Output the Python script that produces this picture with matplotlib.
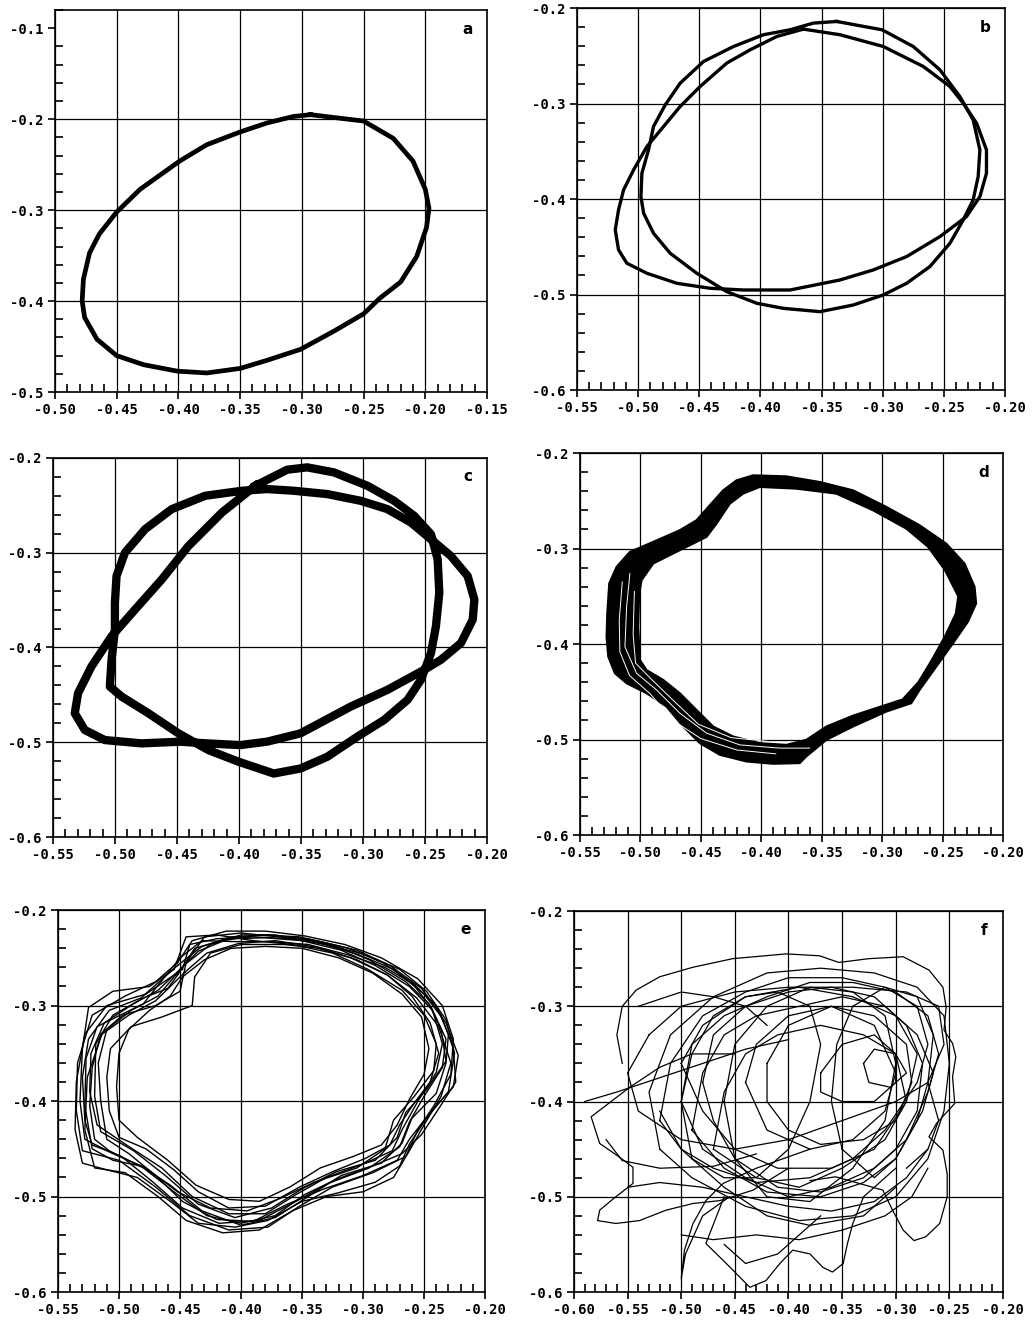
import numpy as np
import matplotlib
matplotlib.use("Agg")
from matplotlib import pyplot as plt
from matplotlib.path import Path
from matplotlib.patches import PathPatch
from matplotlib.ticker import MultipleLocator, FormatStrFormatter

# ---- panel a : single limit cycle (x, y) ----
a_loop = [(-0.293, -0.195), (-0.250, -0.202), (-0.226, -0.221), (-0.210, -0.246), (-0.200, -0.277),
          (-0.197, -0.298), (-0.199, -0.319), (-0.207, -0.351), (-0.220, -0.379), (-0.237, -0.397),
          (-0.250, -0.414), (-0.274, -0.433), (-0.301, -0.453), (-0.328, -0.465), (-0.350, -0.474),
          (-0.377, -0.479), (-0.401, -0.477), (-0.428, -0.470), (-0.450, -0.460), (-0.466, -0.442),
          (-0.476, -0.418), (-0.478, -0.400), (-0.477, -0.376), (-0.472, -0.347), (-0.464, -0.326),
          (-0.450, -0.302), (-0.431, -0.277), (-0.399, -0.246), (-0.377, -0.228), (-0.350, -0.214),
          (-0.328, -0.204), (-0.307, -0.197)]

# ---- panel b : period-two cycle, two loops ----
b_loop1 = [(-0.3376, -0.2140), (-0.3005, -0.2227), (-0.2750, -0.2402), (-0.2532, -0.2646),
           (-0.2369, -0.2926), (-0.2260, -0.3170), (-0.2205, -0.3485), (-0.2219, -0.3764),
           (-0.2260, -0.4008), (-0.2341, -0.4218), (-0.2450, -0.4463), (-0.2614, -0.4707),
           (-0.2804, -0.4882), (-0.2995, -0.5004), (-0.3240, -0.5109), (-0.3512, -0.5179),
           (-0.3814, -0.5144), (-0.4030, -0.5091), (-0.4275, -0.4969), (-0.4520, -0.4777),
           (-0.4738, -0.4567), (-0.4874, -0.4358), (-0.4955, -0.4148), (-0.4977, -0.3974),
           (-0.4969, -0.3729), (-0.4915, -0.3485), (-0.4874, -0.3240), (-0.4778, -0.3013),
           (-0.4656, -0.2786), (-0.4465, -0.2559), (-0.4220, -0.2402), (-0.3975, -0.2279),
           (-0.3757, -0.2227), (-0.3567, -0.2157)]
b_loop2 = [(-0.3648, -0.2220), (-0.3349, -0.2279), (-0.2995, -0.2402), (-0.2668, -0.2611),
           (-0.2450, -0.2821), (-0.2341, -0.2996), (-0.2232, -0.3205), (-0.2151, -0.3485),
           (-0.2151, -0.3729), (-0.2205, -0.3974), (-0.2314, -0.4183), (-0.2532, -0.4393),
           (-0.2804, -0.4602), (-0.3077, -0.4742), (-0.3349, -0.4847), (-0.3757, -0.4952),
           (-0.4139, -0.4952), (-0.4411, -0.4934), (-0.4683, -0.4882), (-0.4928, -0.4777),
           (-0.5092, -0.4672), (-0.5160, -0.4532), (-0.5187, -0.4323), (-0.5160, -0.4113),
           (-0.5119, -0.3904), (-0.5037, -0.3694), (-0.4928, -0.3450), (-0.4792, -0.3240),
           (-0.4656, -0.3030), (-0.4493, -0.2821), (-0.4275, -0.2576), (-0.4084, -0.2437),
           (-0.3866, -0.2297)]

# ---- panel c : thick double loop ----
c_loop = [(-0.3868, -0.2293), (-0.3612, -0.2124), (-0.3450, -0.2099), (-0.3235, -0.2152),
          (-0.2965, -0.2293), (-0.2749, -0.2452), (-0.2587, -0.2611), (-0.2452, -0.2805),
          (-0.2398, -0.3070), (-0.2385, -0.3423), (-0.2412, -0.3776), (-0.2452, -0.4059),
          (-0.2533, -0.4341), (-0.2641, -0.4553), (-0.2830, -0.4765), (-0.3046, -0.4941),
          (-0.3288, -0.5153), (-0.3504, -0.5277), (-0.3720, -0.5330), (-0.4003, -0.5206),
          (-0.4246, -0.5083), (-0.4489, -0.4906), (-0.4731, -0.4694), (-0.4947, -0.4518),
          (-0.5042, -0.4412), (-0.5028, -0.4129), (-0.5001, -0.3811), (-0.5001, -0.3529),
          (-0.4988, -0.3246), (-0.4920, -0.2999), (-0.4758, -0.2752), (-0.4543, -0.2540),
          (-0.4273, -0.2399), (-0.3976, -0.2346), (-0.3774, -0.2328), (-0.3558, -0.2346),
          (-0.3288, -0.2381), (-0.3019, -0.2452), (-0.2803, -0.2540), (-0.2614, -0.2681),
          (-0.2452, -0.2858), (-0.2291, -0.3035), (-0.2156, -0.3246), (-0.2102, -0.3494),
          (-0.2115, -0.3705), (-0.2210, -0.3953), (-0.2371, -0.4129), (-0.2506, -0.4235),
          (-0.2803, -0.4447), (-0.3100, -0.4624), (-0.3504, -0.4906), (-0.3774, -0.4994),
          (-0.3990, -0.5030), (-0.4259, -0.5012), (-0.4475, -0.4994), (-0.4785, -0.5012),
          (-0.5082, -0.4977), (-0.5244, -0.4871), (-0.5325, -0.4694), (-0.5298, -0.4482),
          (-0.5190, -0.4200), (-0.5028, -0.3882), (-0.4839, -0.3600), (-0.4623, -0.3282),
          (-0.4408, -0.2929), (-0.4138, -0.2576)]

# ---- panel d : torus band (outer edge, inner edge, streaks) ----
d_outer = [(-0.4067, -0.2233), (-0.3792, -0.2244), (-0.3516, -0.2303), (-0.3241, -0.2390),
           (-0.2965, -0.2564), (-0.2690, -0.2756), (-0.2470, -0.2948), (-0.2318, -0.3157),
           (-0.2235, -0.3401), (-0.2222, -0.3575), (-0.2290, -0.3766), (-0.2414, -0.3993),
           (-0.2552, -0.4237), (-0.2690, -0.4481), (-0.2759, -0.4620), (-0.2965, -0.4707),
           (-0.3241, -0.4864), (-0.3461, -0.5003), (-0.3627, -0.5177), (-0.3682, -0.5247),
           (-0.3902, -0.5254), (-0.4123, -0.5230), (-0.4343, -0.5160), (-0.4508, -0.5038),
           (-0.4646, -0.4864), (-0.4784, -0.4655), (-0.4949, -0.4515), (-0.5114, -0.4411),
           (-0.5211, -0.4306), (-0.5266, -0.4132), (-0.5280, -0.3923), (-0.5274, -0.3679),
           (-0.5258, -0.3366), (-0.5197, -0.3192), (-0.5087, -0.3035), (-0.4894, -0.2930),
           (-0.4674, -0.2808), (-0.4536, -0.2704), (-0.4426, -0.2547), (-0.4315, -0.2390),
           (-0.4205, -0.2286)]
d_inner = [(-0.4012, -0.2355), (-0.3709, -0.2373), (-0.3379, -0.2425), (-0.3076, -0.2599),
           (-0.2800, -0.2791), (-0.2620, -0.2982), (-0.2480, -0.3226), (-0.2370, -0.3500),
           (-0.2390, -0.3680), (-0.2480, -0.3920), (-0.2590, -0.4170), (-0.2700, -0.4400),
           (-0.2830, -0.4580), (-0.3048, -0.4670), (-0.3241, -0.4750), (-0.3461, -0.4864),
           (-0.3627, -0.5003), (-0.3792, -0.5056), (-0.4012, -0.5038), (-0.4233, -0.4968),
           (-0.4398, -0.4864), (-0.4536, -0.4690), (-0.4674, -0.4515), (-0.4811, -0.4376),
           (-0.4949, -0.4272), (-0.5004, -0.4167), (-0.5018, -0.3819), (-0.5010, -0.3470),
           (-0.4990, -0.3331), (-0.4894, -0.3157), (-0.4729, -0.3052), (-0.4563, -0.2948),
           (-0.4453, -0.2878), (-0.4370, -0.2739), (-0.4260, -0.2530), (-0.4150, -0.2425)]
d_streaks = [
    [(-0.5087, -0.3261), (-0.5114, -0.3610), (-0.5128, -0.4028), (-0.5032, -0.4306),
     (-0.4866, -0.4481), (-0.4674, -0.4724), (-0.4453, -0.4933), (-0.4178, -0.5056),
     (-0.3847, -0.5090), (-0.3599, -0.5090)],
    [(-0.5150, -0.3350), (-0.5175, -0.3750), (-0.5170, -0.4080), (-0.5090, -0.4330),
     (-0.4920, -0.4520), (-0.4730, -0.4800), (-0.4500, -0.4990), (-0.4200, -0.5110),
     (-0.3880, -0.5150)],
    [(-0.5050, -0.3450), (-0.5060, -0.3900), (-0.5040, -0.4200), (-0.4900, -0.4380),
     (-0.4720, -0.4600), (-0.4520, -0.4840), (-0.4250, -0.4980), (-0.3950, -0.5020)],
]

# ---- panel e : noisy torus, individual revolutions ----
e_loops = [
    [(-0.450, -0.262), (-0.435, -0.243), (-0.410, -0.230), (-0.380, -0.229), (-0.350, -0.232),
     (-0.318, -0.242), (-0.290, -0.258), (-0.262, -0.280), (-0.243, -0.305), (-0.235, -0.340),
     (-0.240, -0.370), (-0.255, -0.400), (-0.268, -0.430), (-0.276, -0.452), (-0.300, -0.466),
     (-0.330, -0.480), (-0.355, -0.498), (-0.380, -0.518), (-0.410, -0.518), (-0.440, -0.500),
     (-0.465, -0.470), (-0.495, -0.445), (-0.518, -0.425), (-0.524, -0.390), (-0.523, -0.350),
     (-0.512, -0.318), (-0.488, -0.298), (-0.468, -0.284)],
    [(-0.452, -0.255), (-0.440, -0.232), (-0.412, -0.222), (-0.380, -0.222), (-0.348, -0.227),
     (-0.315, -0.236), (-0.285, -0.250), (-0.255, -0.272), (-0.235, -0.300), (-0.226, -0.335),
     (-0.228, -0.372), (-0.242, -0.405), (-0.255, -0.430), (-0.265, -0.458), (-0.292, -0.475),
     (-0.325, -0.490), (-0.352, -0.510), (-0.378, -0.532), (-0.410, -0.535), (-0.442, -0.520),
     (-0.470, -0.490), (-0.500, -0.462), (-0.530, -0.452), (-0.535, -0.410), (-0.534, -0.360),
     (-0.522, -0.310), (-0.495, -0.290), (-0.470, -0.275)],
    [(-0.448, -0.270), (-0.430, -0.252), (-0.408, -0.240), (-0.380, -0.238), (-0.350, -0.240),
     (-0.320, -0.250), (-0.292, -0.266), (-0.268, -0.288), (-0.252, -0.312), (-0.246, -0.345),
     (-0.250, -0.372), (-0.262, -0.398), (-0.272, -0.425), (-0.285, -0.446), (-0.308, -0.458),
     (-0.335, -0.470), (-0.360, -0.490), (-0.385, -0.505), (-0.410, -0.503), (-0.437, -0.488),
     (-0.460, -0.462), (-0.485, -0.438), (-0.500, -0.420), (-0.502, -0.385), (-0.500, -0.350),
     (-0.492, -0.325), (-0.475, -0.305), (-0.458, -0.290)],
    [(-0.447, -0.258), (-0.425, -0.236), (-0.400, -0.226), (-0.372, -0.226), (-0.340, -0.233),
     (-0.305, -0.246), (-0.275, -0.262), (-0.250, -0.288), (-0.232, -0.318), (-0.222, -0.352),
     (-0.226, -0.385), (-0.245, -0.412), (-0.262, -0.440), (-0.272, -0.462), (-0.300, -0.478),
     (-0.332, -0.492), (-0.362, -0.508), (-0.390, -0.526), (-0.420, -0.524), (-0.448, -0.505),
     (-0.470, -0.478), (-0.492, -0.455), (-0.510, -0.440), (-0.515, -0.400), (-0.517, -0.360),
     (-0.510, -0.325), (-0.490, -0.305), (-0.468, -0.290)],
    [(-0.455, -0.262), (-0.445, -0.228), (-0.420, -0.226), (-0.390, -0.232), (-0.358, -0.236),
     (-0.325, -0.245), (-0.296, -0.262), (-0.268, -0.284), (-0.250, -0.310), (-0.240, -0.340),
     (-0.242, -0.368), (-0.258, -0.395), (-0.275, -0.420), (-0.282, -0.450), (-0.305, -0.470),
     (-0.340, -0.485), (-0.368, -0.502), (-0.395, -0.515), (-0.425, -0.512), (-0.452, -0.495),
     (-0.478, -0.470), (-0.505, -0.455), (-0.528, -0.440), (-0.532, -0.400), (-0.530, -0.345),
     (-0.525, -0.302), (-0.505, -0.285), (-0.475, -0.280)],
    [(-0.450, -0.250), (-0.432, -0.232), (-0.405, -0.233), (-0.375, -0.233), (-0.345, -0.236),
     (-0.312, -0.247), (-0.282, -0.260), (-0.258, -0.278), (-0.240, -0.300), (-0.230, -0.330),
     (-0.232, -0.360), (-0.240, -0.392), (-0.260, -0.418), (-0.268, -0.444), (-0.285, -0.465),
     (-0.318, -0.478), (-0.345, -0.500), (-0.372, -0.522), (-0.400, -0.530), (-0.432, -0.515),
     (-0.458, -0.488), (-0.482, -0.468), (-0.505, -0.462), (-0.522, -0.450), (-0.528, -0.405),
     (-0.527, -0.355), (-0.518, -0.322), (-0.480, -0.298)],
    [(-0.452, -0.268), (-0.438, -0.240), (-0.415, -0.232), (-0.385, -0.226), (-0.352, -0.228),
     (-0.322, -0.238), (-0.295, -0.252), (-0.265, -0.275), (-0.246, -0.298), (-0.236, -0.325),
     (-0.232, -0.358), (-0.248, -0.388), (-0.265, -0.412), (-0.272, -0.438), (-0.290, -0.462),
     (-0.322, -0.474), (-0.350, -0.492), (-0.375, -0.512), (-0.405, -0.522), (-0.435, -0.508),
     (-0.462, -0.478), (-0.488, -0.452), (-0.515, -0.432), (-0.520, -0.395), (-0.519, -0.340),
     (-0.505, -0.310), (-0.480, -0.292), (-0.460, -0.282)],
    [(-0.446, -0.265), (-0.428, -0.245), (-0.402, -0.235), (-0.372, -0.232), (-0.342, -0.238),
     (-0.310, -0.250), (-0.280, -0.268), (-0.256, -0.292), (-0.238, -0.322), (-0.228, -0.360),
     (-0.236, -0.395), (-0.250, -0.425), (-0.262, -0.452), (-0.275, -0.480), (-0.300, -0.495),
     (-0.330, -0.500), (-0.358, -0.515), (-0.385, -0.535), (-0.415, -0.538), (-0.445, -0.525),
     (-0.468, -0.500), (-0.495, -0.475), (-0.520, -0.470), (-0.528, -0.430), (-0.526, -0.375),
     (-0.514, -0.330), (-0.492, -0.310), (-0.470, -0.295)],
    [(-0.445, -0.255), (-0.430, -0.228), (-0.400, -0.224), (-0.370, -0.228), (-0.338, -0.232),
     (-0.305, -0.242), (-0.278, -0.258), (-0.252, -0.282), (-0.236, -0.310), (-0.226, -0.345),
     (-0.224, -0.380), (-0.238, -0.408), (-0.252, -0.435), (-0.268, -0.455), (-0.292, -0.468),
     (-0.322, -0.482), (-0.348, -0.498), (-0.372, -0.520), (-0.400, -0.528), (-0.428, -0.520),
     (-0.455, -0.495), (-0.480, -0.470), (-0.508, -0.452), (-0.520, -0.440), (-0.524, -0.405),
     (-0.522, -0.365), (-0.515, -0.330), (-0.497, -0.310), (-0.470, -0.300), (-0.450, -0.285)],
    [(-0.440, -0.300), (-0.438, -0.270), (-0.425, -0.245), (-0.400, -0.236), (-0.365, -0.236),
     (-0.335, -0.240), (-0.305, -0.252), (-0.280, -0.268), (-0.260, -0.290), (-0.245, -0.318),
     (-0.238, -0.350), (-0.245, -0.380), (-0.258, -0.402), (-0.270, -0.425), (-0.278, -0.446),
     (-0.298, -0.460), (-0.325, -0.474), (-0.352, -0.490), (-0.380, -0.510), (-0.410, -0.512),
     (-0.435, -0.495), (-0.455, -0.472), (-0.478, -0.450), (-0.500, -0.438), (-0.508, -0.410),
     (-0.510, -0.375), (-0.507, -0.345), (-0.490, -0.322), (-0.465, -0.312)],
    [(-0.448, -0.262), (-0.442, -0.236), (-0.420, -0.230), (-0.390, -0.228), (-0.360, -0.230),
     (-0.330, -0.236), (-0.300, -0.246), (-0.270, -0.262), (-0.248, -0.285), (-0.232, -0.315),
     (-0.225, -0.350), (-0.230, -0.390), (-0.248, -0.418), (-0.262, -0.445), (-0.270, -0.468),
     (-0.290, -0.485), (-0.320, -0.496), (-0.350, -0.505), (-0.378, -0.525), (-0.405, -0.532),
     (-0.435, -0.528), (-0.458, -0.505), (-0.485, -0.480), (-0.510, -0.472), (-0.530, -0.465),
     (-0.536, -0.430), (-0.535, -0.380), (-0.528, -0.330), (-0.510, -0.300), (-0.478, -0.288)],
    [(-0.452, -0.258), (-0.432, -0.238), (-0.408, -0.228), (-0.378, -0.226), (-0.345, -0.230),
     (-0.312, -0.240), (-0.284, -0.255), (-0.260, -0.276), (-0.244, -0.302), (-0.232, -0.335),
     (-0.235, -0.365), (-0.250, -0.395), (-0.262, -0.422), (-0.270, -0.448), (-0.295, -0.470),
     (-0.328, -0.486), (-0.355, -0.505), (-0.385, -0.525), (-0.418, -0.528), (-0.448, -0.512),
     (-0.472, -0.485), (-0.498, -0.458), (-0.522, -0.446), (-0.528, -0.420), (-0.530, -0.375),
     (-0.525, -0.335), (-0.508, -0.305), (-0.482, -0.292)],
]

# ---- panel f : chaotic trajectory, open strokes and core revolutions ----
f_strokes = [
    [(-0.555, -0.360), (-0.560, -0.330), (-0.555, -0.300), (-0.542, -0.283), (-0.520, -0.269),
     (-0.489, -0.259), (-0.452, -0.250), (-0.402, -0.245), (-0.371, -0.247), (-0.353, -0.254),
     (-0.325, -0.250), (-0.293, -0.248), (-0.269, -0.262), (-0.256, -0.280), (-0.253, -0.301),
     (-0.255, -0.325), (-0.247, -0.339), (-0.244, -0.353), (-0.247, -0.374), (-0.245, -0.402),
     (-0.262, -0.423), (-0.269, -0.437), (-0.256, -0.451), (-0.252, -0.476), (-0.252, -0.500),
     (-0.259, -0.528), (-0.272, -0.542), (-0.283, -0.546), (-0.293, -0.535), (-0.303, -0.514),
     (-0.312, -0.493), (-0.334, -0.486), (-0.356, -0.479), (-0.380, -0.483)],
    [(-0.450, -0.350), (-0.490, -0.350), (-0.520, -0.364), (-0.548, -0.385), (-0.584, -0.416),
     (-0.576, -0.444), (-0.558, -0.458), (-0.545, -0.469), (-0.545, -0.486), (-0.561, -0.500),
     (-0.576, -0.514), (-0.578, -0.525), (-0.561, -0.528), (-0.539, -0.525), (-0.514, -0.514),
     (-0.489, -0.507), (-0.464, -0.504), (-0.433, -0.493), (-0.400, -0.470)],
    [(-0.380, -0.450), (-0.430, -0.470), (-0.461, -0.486), (-0.477, -0.504), (-0.489, -0.528),
     (-0.497, -0.556), (-0.500, -0.586), (-0.496, -0.560), (-0.480, -0.520), (-0.455, -0.500)],
    [(-0.460, -0.500), (-0.477, -0.549), (-0.458, -0.570), (-0.436, -0.595), (-0.421, -0.588),
     (-0.408, -0.570), (-0.396, -0.556), (-0.380, -0.560), (-0.368, -0.574), (-0.359, -0.579),
     (-0.349, -0.570), (-0.345, -0.549), (-0.340, -0.528), (-0.330, -0.500), (-0.300, -0.470)],
    [(-0.550, -0.490), (-0.520, -0.485), (-0.480, -0.490), (-0.440, -0.500), (-0.400, -0.510),
     (-0.360, -0.515), (-0.320, -0.505), (-0.290, -0.480), (-0.270, -0.450)],
    [(-0.570, -0.440), (-0.555, -0.462), (-0.520, -0.470), (-0.470, -0.468), (-0.430, -0.455)],
    [(-0.540, -0.300), (-0.500, -0.285), (-0.470, -0.290), (-0.440, -0.300), (-0.420, -0.320)],
    [(-0.590, -0.400), (-0.560, -0.390), (-0.520, -0.375), (-0.480, -0.360), (-0.440, -0.345),
     (-0.400, -0.335)],
    [(-0.500, -0.540), (-0.470, -0.545), (-0.430, -0.540), (-0.390, -0.545), (-0.350, -0.535),
     (-0.310, -0.520), (-0.285, -0.500), (-0.270, -0.470)],
    [(-0.460, -0.550), (-0.440, -0.570), (-0.410, -0.560), (-0.390, -0.540), (-0.370, -0.520)],
    [(-0.520, -0.410), (-0.500, -0.450), (-0.460, -0.490), (-0.420, -0.520), (-0.380, -0.530),
     (-0.330, -0.520), (-0.300, -0.490)],
    [(-0.270, -0.380), (-0.260, -0.420), (-0.270, -0.450), (-0.290, -0.470)],
]
f_loops = [
    [(-0.48, -0.38), (-0.47, -0.33), (-0.44, -0.30), (-0.40, -0.285), (-0.36, -0.28), (-0.32, -0.29),
     (-0.29, -0.32), (-0.275, -0.36), (-0.28, -0.41), (-0.30, -0.45), (-0.33, -0.48), (-0.37, -0.495),
     (-0.41, -0.49), (-0.45, -0.46), (-0.47, -0.42)],
    [(-0.50, -0.40), (-0.49, -0.34), (-0.46, -0.31), (-0.42, -0.29), (-0.38, -0.275), (-0.34, -0.275),
     (-0.30, -0.285), (-0.27, -0.31), (-0.26, -0.35), (-0.27, -0.39), (-0.29, -0.44), (-0.32, -0.47),
     (-0.36, -0.49), (-0.40, -0.50), (-0.44, -0.48), (-0.48, -0.45)],
    [(-0.42, -0.36), (-0.40, -0.32), (-0.36, -0.30), (-0.32, -0.31), (-0.29, -0.34), (-0.285, -0.38),
     (-0.30, -0.42), (-0.33, -0.44), (-0.37, -0.445), (-0.40, -0.43), (-0.42, -0.40)],
    [(-0.52, -0.42), (-0.51, -0.36), (-0.48, -0.31), (-0.44, -0.285), (-0.40, -0.27), (-0.35, -0.27),
     (-0.31, -0.28), (-0.28, -0.30), (-0.27, -0.34), (-0.28, -0.38), (-0.31, -0.43), (-0.34, -0.46),
     (-0.38, -0.48), (-0.43, -0.485), (-0.47, -0.47), (-0.50, -0.45)],
    [(-0.46, -0.40), (-0.45, -0.34), (-0.42, -0.30), (-0.38, -0.28), (-0.34, -0.285), (-0.31, -0.31),
     (-0.30, -0.36), (-0.31, -0.42), (-0.34, -0.47), (-0.38, -0.505), (-0.42, -0.50), (-0.45, -0.46)],
    [(-0.37, -0.37), (-0.35, -0.34), (-0.32, -0.33), (-0.30, -0.35), (-0.30, -0.38), (-0.32, -0.40),
     (-0.35, -0.40), (-0.37, -0.39)],
    [(-0.49, -0.43), (-0.48, -0.37), (-0.46, -0.33), (-0.43, -0.31), (-0.39, -0.30), (-0.35, -0.29),
     (-0.31, -0.30), (-0.28, -0.33), (-0.265, -0.37), (-0.275, -0.41), (-0.30, -0.46), (-0.33, -0.485),
     (-0.37, -0.50), (-0.42, -0.495), (-0.46, -0.47)],
    [(-0.53, -0.33), (-0.50, -0.30), (-0.45, -0.285), (-0.40, -0.28), (-0.34, -0.28), (-0.29, -0.285),
     (-0.26, -0.30), (-0.255, -0.34), (-0.27, -0.38), (-0.30, -0.40), (-0.35, -0.42), (-0.40, -0.44),
     (-0.45, -0.45), (-0.50, -0.44), (-0.54, -0.41), (-0.55, -0.37)],
    [(-0.50, -0.36), (-0.48, -0.32), (-0.44, -0.29), (-0.39, -0.28), (-0.34, -0.29), (-0.30, -0.31),
     (-0.28, -0.35), (-0.29, -0.40), (-0.32, -0.45), (-0.36, -0.47), (-0.41, -0.47), (-0.45, -0.45),
     (-0.48, -0.41)],
    [(-0.44, -0.38), (-0.43, -0.34), (-0.40, -0.31), (-0.36, -0.30), (-0.32, -0.32), (-0.30, -0.37),
     (-0.31, -0.41), (-0.34, -0.44), (-0.38, -0.45), (-0.42, -0.43)],
    [(-0.47, -0.45), (-0.46, -0.39), (-0.44, -0.35), (-0.41, -0.33), (-0.37, -0.32), (-0.33, -0.33),
     (-0.30, -0.35), (-0.29, -0.40), (-0.31, -0.44), (-0.35, -0.47), (-0.39, -0.49), (-0.43, -0.48)],
    [(-0.49, -0.46), (-0.50, -0.40), (-0.49, -0.35), (-0.47, -0.31), (-0.44, -0.29), (-0.41, -0.285),
     (-0.38, -0.30), (-0.37, -0.34), (-0.38, -0.40), (-0.40, -0.45), (-0.43, -0.48), (-0.46, -0.48)],
    [(-0.35, -0.45), (-0.36, -0.40), (-0.355, -0.34), (-0.34, -0.30), (-0.31, -0.28), (-0.28, -0.29),
     (-0.265, -0.33), (-0.27, -0.38), (-0.28, -0.42), (-0.30, -0.46), (-0.32, -0.48)],
    [(-0.33, -0.36), (-0.32, -0.345), (-0.30, -0.35), (-0.29, -0.37), (-0.305, -0.385), (-0.325, -0.38)],
    [(-0.52, -0.45), (-0.53, -0.39), (-0.51, -0.33), (-0.47, -0.29), (-0.42, -0.265), (-0.37, -0.26),
     (-0.32, -0.265), (-0.28, -0.28), (-0.255, -0.31), (-0.25, -0.36), (-0.255, -0.41), (-0.27, -0.46),
     (-0.30, -0.50), (-0.34, -0.52), (-0.39, -0.525), (-0.44, -0.51), (-0.49, -0.48)],
]

panel_labels = ["a", "b", "c", "d", "e", "f"]
xlims = [(-0.50, -0.15), (-0.55, -0.20), (-0.55, -0.20), (-0.55, -0.20), (-0.55, -0.20), (-0.60, -0.20)]
ylims = [(-0.50, -0.08), (-0.60, -0.20), (-0.60, -0.20), (-0.60, -0.20), (-0.60, -0.20), (-0.60, -0.20)]
# axes boxes in figure fractions
boxes = [[0.0532, 0.7050, 0.4178, 0.2874], [0.5580, 0.7065, 0.4139, 0.2874],
         [0.0513, 0.3702, 0.4197, 0.2852], [0.5609, 0.3717, 0.4091, 0.2874],
         [0.0561, 0.0278, 0.4130, 0.2874], [0.5551, 0.0278, 0.4149, 0.2867]]


def xy(pts, close=True):
    arr = np.array(pts)
    if close:
        arr = np.vstack([arr, arr[:1]])
    return arr[:, 0], arr[:, 1]


def style(ax, xl, yl, label):
    ax.set_xlim(*xl)
    ax.set_ylim(*yl)
    ax.xaxis.set_major_locator(MultipleLocator(0.05))
    ax.xaxis.set_minor_locator(MultipleLocator(0.01))
    ax.yaxis.set_major_locator(MultipleLocator(0.1))
    ax.yaxis.set_minor_locator(MultipleLocator(0.02))
    ax.xaxis.set_major_formatter(FormatStrFormatter("%.2f"))
    ax.yaxis.set_major_formatter(FormatStrFormatter("%.1f"))
    ax.tick_params(which="major", direction="out", length=5, width=1.2,
                   top=False, right=False, pad=3)
    ax.tick_params(which="minor", direction="in", length=6, width=1.2,
                   top=False, right=False)
    for t in ax.get_xticklabels() + ax.get_yticklabels():
        t.set_fontfamily("DejaVu Sans Mono")
        t.set_fontweight("bold")
        t.set_fontsize(10)
    for v in np.arange(xl[0], xl[1] + 1e-9, 0.05):
        ax.axvline(v, color="black", lw=0.9, zorder=0)
    for v in np.arange(yl[0], -0.15, 0.1):
        ax.axhline(v, color="black", lw=0.9, zorder=0)
    for s in ax.spines.values():
        s.set_linewidth(1.2)
    ax.text(0.955, 0.95, label, transform=ax.transAxes, fontsize=11,
            fontweight="bold", ha="center", va="center")


fig = plt.figure(figsize=(10.34, 13.29), dpi=100)
axes = [fig.add_axes(b) for b in boxes]

ax = axes[0]
ax.plot(*xy(a_loop), color="black", lw=3.4, solid_joinstyle="round")

ax = axes[1]
ax.plot(*xy(b_loop1), color="black", lw=2.4, solid_joinstyle="round")
ax.plot(*xy(b_loop2), color="black", lw=2.4, solid_joinstyle="round")

ax = axes[2]
ax.plot(*xy(c_loop), color="black", lw=6.0, solid_joinstyle="round")

ax = axes[3]
outer = np.array(d_outer)
inner = np.array(d_inner)[::-1]
verts = np.vstack([outer, outer[:1], inner, inner[:1]])
codes = ([Path.MOVETO] + [Path.LINETO] * (len(outer) - 1) + [Path.CLOSEPOLY]
         + [Path.MOVETO] + [Path.LINETO] * (len(inner) - 1) + [Path.CLOSEPOLY])
ax.add_patch(PathPatch(Path(verts, codes), facecolor="black", edgecolor="black", lw=1.5))
for s in d_streaks:
    ax.plot(*xy(s, close=False), color="white", lw=0.7)

ax = axes[4]
for loop in e_loops:
    ax.plot(*xy(loop), color="black", lw=1.0)

ax = axes[5]
for s in f_strokes:
    ax.plot(*xy(s, close=False), color="black", lw=0.9)
for loop in f_loops:
    ax.plot(*xy(loop), color="black", lw=0.9)

for ax, xl, yl, lab in zip(axes, xlims, ylims, panel_labels):
    style(ax, xl, yl, lab)

fig.savefig("out.png", dpi=100)
